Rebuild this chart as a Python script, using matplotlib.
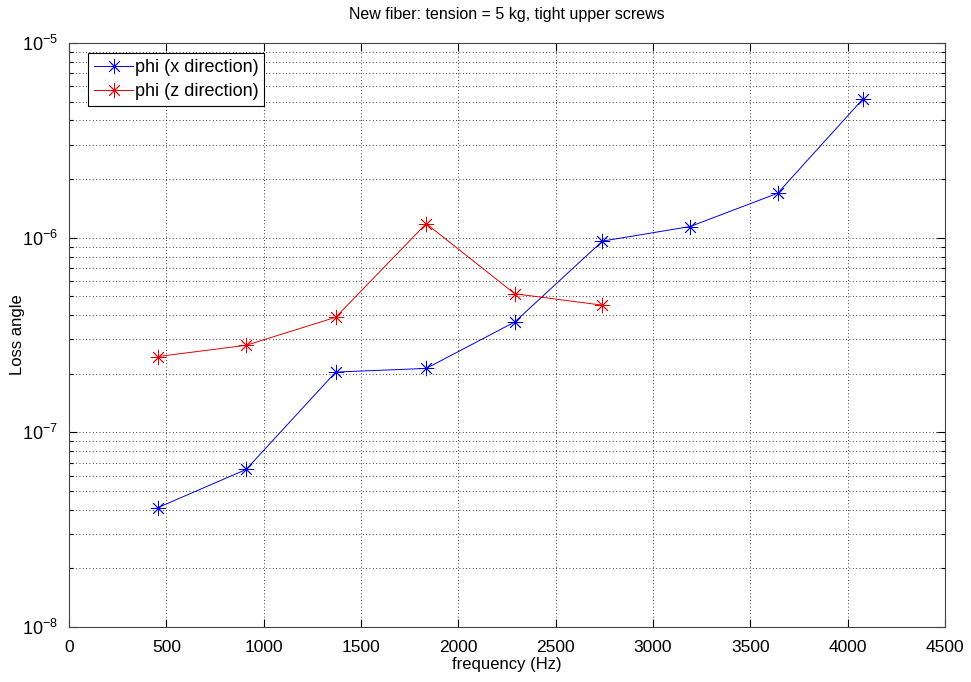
import matplotlib
matplotlib.use("Agg")
import matplotlib.pyplot as plt
from matplotlib.ticker import LogLocator, NullFormatter, FuncFormatter
import numpy as np

plt.rcParams['font.family'] = ['Liberation Sans', 'DejaVu Sans']
plt.rcParams['mathtext.fontset'] = 'custom'
plt.rcParams['mathtext.rm'] = 'Liberation Sans'

# Loss angle measurements vs. mode frequency
freq_x = [455, 910, 1370, 1835, 2290, 2740, 3190, 3640, 4078]
phi_x = [4.1e-8, 6.45e-8, 2.04e-7, 2.13e-7, 3.69e-7, 9.6e-7, 1.14e-6, 1.69e-6, 5.15e-6]

freq_z = [455, 910, 1370, 1835, 2290, 2740]
phi_z = [2.45e-7, 2.8e-7, 3.9e-7, 1.18e-6, 5.15e-7, 4.5e-7]

labels = ['phi (x direction)', 'phi (z direction)']
title = 'New fiber: tension = 5 kg, tight upper screws'

fig = plt.figure(figsize=(9.71, 6.82), dpi=100)
ax = fig.add_axes([0.0711, 0.0806, 0.9021, 0.8564])

star = (8, 2, 0)
ax.semilogy(freq_x, phi_x, color=(0, 0, 0.9), lw=0.7, marker=star, ms=11, mew=0.6,
            label=labels[0])
ax.semilogy(freq_z, phi_z, color=(0.9, 0, 0), lw=0.7, marker=star, ms=11, mew=0.6,
            label=labels[1])

ax.set_xlim(0, 4500)
ax.set_ylim(1e-8, 1e-5)
ax.set_xticks(range(0, 4501, 500))
ax.yaxis.set_major_locator(LogLocator(base=10))
ax.yaxis.set_minor_locator(LogLocator(base=10, subs=range(2, 10)))
ax.yaxis.set_minor_formatter(NullFormatter())
ax.yaxis.set_major_formatter(FuncFormatter(
    lambda v, p: r'$\mathregular{10^{%d}}$' % int(round(np.log10(v)))))

ax.grid(True, which='major', linestyle=(0, (1, 3)), color='black', lw=0.6)
ax.grid(True, which='minor', axis='y', linestyle=(0, (1, 3)), color='black', lw=0.6)

ax.tick_params(which='both', direction='in', top=True, right=True)
ax.tick_params(axis='x', labelsize=12.5, pad=9)
ax.tick_params(axis='y', labelsize=13, pad=8)
ax.tick_params(which='major', length=6, width=0.8)
ax.tick_params(which='minor', length=3, width=0.8)
for s in ax.spines.values():
    s.set_linewidth(0.8)
    s.set_color('#444444')

ax.set_xlabel('frequency (Hz)', fontsize=12, labelpad=2)
ax.set_ylabel('Loss angle', fontsize=12)
ax.yaxis.set_label_coords(-0.05, 0.5)
ax.set_title(title, fontsize=11.5, pad=17)

leg = ax.legend(loc='upper left', fontsize=13, fancybox=False, framealpha=1,
                edgecolor='black', borderpad=0.3, handlelength=2.2,
                handletextpad=0.1, labelspacing=0.4,
                bbox_to_anchor=(0.022, 0.982), borderaxespad=0)
leg.get_frame().set_linewidth(0.8)

fig.savefig('out.png', dpi=100)
